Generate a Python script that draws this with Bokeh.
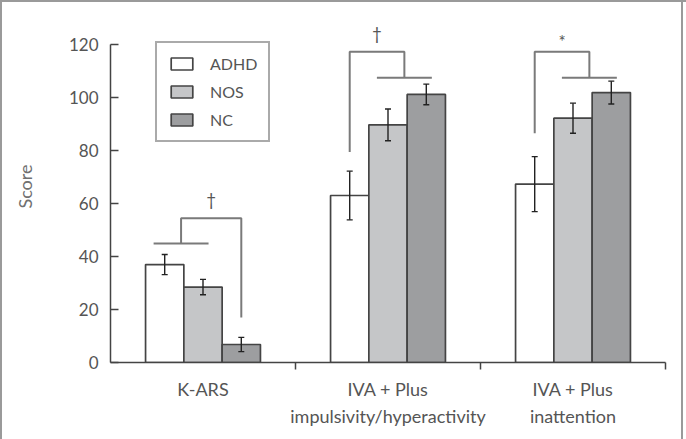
import numpy as np
from bokeh.plotting import figure
from bokeh.models import (ColumnDataSource, Range1d, FixedTicker, LinearAxis, Whisker, TeeHead)
from bokeh.core.properties import value
from bokeh.embed import file_html
from bokeh.resources import INLINE

# ---------------- data ----------------
categories = ["K-ARS", "IVA + Plus\nimpulsivity/hyperactivity", "IVA + Plus\ninattention"]
series = ["ADHD", "NOS", "NC"]
adhd = [37.0, 63.1, 67.4]
adhd_err = [3.8, 9.2, 10.4]
nos = [28.5, 89.8, 92.3]
nos_err = [2.9, 6.0, 5.7]
nc = [6.8, 101.3, 102.0]
nc_err = [2.7, 3.9, 4.3]
y_ticks = [0, 20, 40, 60, 80, 100, 120]

# significance annotations per category
sig_marks = ["†", "†", "*"]
bracket_top = [54.5, 117.4, 117.4]        # top horizontal of bracket
bracket_join = [45.0, 107.6, 107.6]       # pooled-group line
bracket_leg_bottom = [17.0, 79.5, 86.6]   # lower end of single-group leg

# ---------------- styling ----------------
FONT = "Lato"
TXT = "#555555"
fills = ["#ffffff", "#c5c6c8", "#9d9ea0"]
bar_w = 0.207
offsets = [-bar_w, 0.0, bar_w]
mark_dy = [3.0, 3.0, 0.1]
centers = np.arange(len(categories)) + 0.5

p = figure(width=686, height=439, output_backend="svg", toolbar_location=None,
           x_range=Range1d(0, 3), y_range=Range1d(0, 133),
           min_border_left=110, min_border_right=21, min_border_top=10, min_border_bottom=77)
p.border_fill_color = None
p.background_fill_color = None
p.outline_line_color = None
p.xgrid.visible = False
p.ygrid.visible = False
p.styles = {"box-shadow": "inset 2px 0 0 0 #9a9a9a, inset 0 2px 0 0 #9a9a9a, "
                          "inset -3px 0 0 0 #ffffff, inset -5px 0 0 0 #9a9a9a",
            "background": "#ffffff"}

vals = [adhd, nos, nc]
errs = [adhd_err, nos_err, nc_err]
for k, name in enumerate(series):
    v = np.array(vals[k]); e = np.array(errs[k])
    src = ColumnDataSource(dict(x=centers + offsets[k], top=v, upper=v + e, lower=v - e))
    p.vbar(x="x", top="top", width=bar_w, bottom=0, source=src,
           fill_color=fills[k], line_color="#444444", line_width=1.7, legend_label=name)
    w = Whisker(base="x", upper="upper", lower="lower", source=src, level="annotation",
                line_color="#222222", line_width=1.4,
                upper_head=TeeHead(size=6, line_color="#222222", line_width=1.4),
                lower_head=TeeHead(size=6, line_color="#222222", line_width=1.4))
    p.add_layout(w)

# brackets
xs, ys, mx, my = [], [], [], []
for i in range(len(categories)):
    xa = centers[i] + offsets[0]; xn = centers[i] + offsets[1]; xc = centers[i] + offsets[2]
    top, join, low = bracket_top[i], bracket_join[i], bracket_leg_bottom[i]
    if i == 0:
        l0, l1 = xa - 0.06, xn + 0.03
        mid = (l0 + l1) / 2
        xs += [[l0, l1], [mid, mid, xc, xc]]
        ys += [[join, join], [join, top, top, low]]
        mx.append((mid + xc) / 2)
    else:
        l0, l1 = xn - 0.06, xc + 0.03
        mid = (l0 + l1) / 2
        xs += [[l0, l1], [xa, xa, mid, mid]]
        ys += [[join, join], [low, top, top, join]]
        mx.append((mid + xa) / 2)
    my.append(top + mark_dy[i])
p.multi_line(xs=xs, ys=ys, line_color="#7a7a7a", line_width=2)
p.text(x=mx, y=my, text=sig_marks, text_font=value(FONT), text_font_size="17px",
       text_align="center", text_baseline="bottom", text_color=TXT)

# y axis
ya = p.yaxis[0]
ya.ticker = FixedTicker(ticks=y_ticks)
ya.bounds = (0, 120)
ya.major_tick_in = 8
ya.major_tick_out = 0
ya.minor_tick_line_color = None
ya.axis_line_color = "#444444"
ya.axis_line_width = 1.5
ya.major_tick_line_color = "#444444"
ya.major_tick_line_width = 1.5
ya.major_label_standoff = 12
ya.major_label_text_font = FONT
ya.major_label_text_font_size = "17px"
ya.major_label_text_color = TXT
ya.axis_label = "Score"
ya.axis_label_text_font = FONT
ya.axis_label_text_font_size = "18px"
ya.axis_label_text_font_style = "normal"
ya.axis_label_text_color = "#707070"
ya.axis_label_standoff = 30

# x axis: line + boundary ticks (no labels)
xa_ = p.xaxis[0]
xa_.ticker = FixedTicker(ticks=[1, 2, 3])
xa_.major_label_overrides = {1: "", 2: "", 3: ""}
xa_.major_tick_in = 0
xa_.major_tick_out = 7
xa_.minor_tick_line_color = None
xa_.axis_line_color = "#444444"
xa_.axis_line_width = 1.5
xa_.major_tick_line_color = "#444444"
xa_.major_tick_line_width = 1.5
xa_.major_label_standoff = 0

# label axis
lab = LinearAxis(ticker=FixedTicker(ticks=list(centers)),
                 major_label_overrides={float(c): t for c, t in zip(centers, categories)})
lab.axis_line_color = None
lab.major_tick_line_color = None
lab.minor_tick_line_color = None
lab.major_tick_in = 0
lab.major_tick_out = 0
lab.major_label_standoff = 8
lab.major_label_text_font = FONT
lab.major_label_text_font_size = "18px"
lab.major_label_text_color = TXT
lab.major_label_text_line_height = 1.27
p.add_layout(lab, "below")

# legend
lg = p.legend[0]
lg.location = (45, 220)
lg.margin = 0
lg.padding = 11
lg.spacing = 9
lg.glyph_width = 27
lg.glyph_height = 15
lg.label_height = 15
lg.label_standoff = 15
lg.label_width = 46
lg.label_text_font = FONT
lg.label_text_font_size = "16px"
lg.label_text_color = TXT
lg.border_line_color = "#555555"
lg.border_line_width = 2
lg.background_fill_color = "#ffffff"

open("out.html", "w").write(file_html(p, INLINE))
